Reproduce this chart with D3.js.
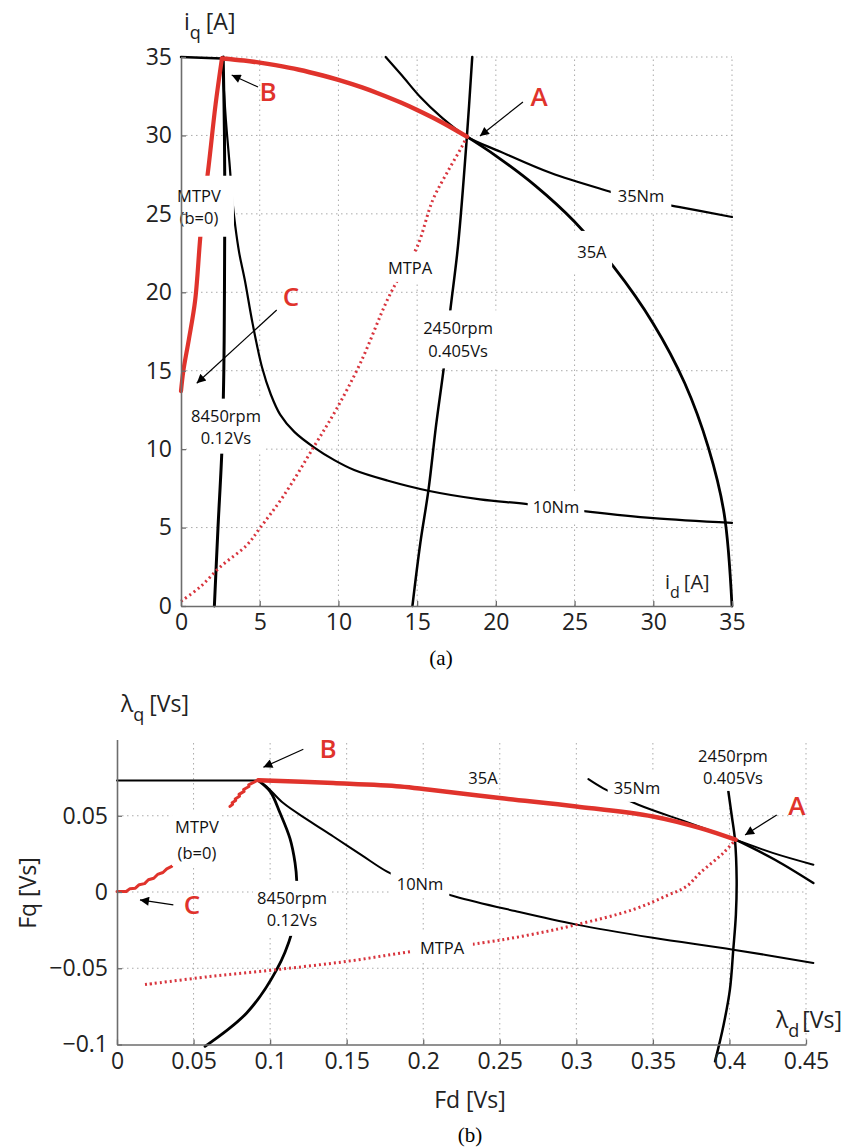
<!DOCTYPE html>
<html>
<head>
<meta charset="utf-8">
<script src="https://cdn.jsdelivr.net/npm/d3@7"></script>
<style>
  body { margin: 0; background: #fff; }
  text { font-family: "Open Sans", sans-serif; }
</style>
</head>
<body>
<script>
// ---------- panel (a): current plane, values in A ----------
var aTicks = [0, 5, 10, 15, 20, 25, 30, 35];

var a35A_left = [[0, 35], [2.6, 34.9]];
var a35A_red = [[2.6, 34.9], [4, 34.77], [5, 34.64], [6, 34.48], [7.5, 34.19], [9, 33.82], [10, 33.54], [11.5, 33.06], [12.5, 32.69], [14, 32.08], [15, 31.62], [16.5, 30.87], [18.16, 29.92]];
var a35A_right = [[18.16, 29.92], [20, 28.7], [22.5, 26.8], [25, 24.5], [27.5, 21.6], [30, 18.0], [32, 14.2], [33.5, 10.1], [34.5, 5.9], [35, 0]];
var a35Nm = [[13.0, 35], [14.05, 33.8], [15.2, 32.45], [16.5, 31.2], [18.16, 29.92], [20.3, 28.96], [23.5, 27.6], [27.3, 26.4], [29, 25.9], [31.6, 25.45], [35, 24.8]];
var a10Nm = [[2.6, 35], [2.85, 31], [3.1, 28], [3.25, 26], [3.45, 24.2], [3.7, 22.5], [4.05, 20.8], [4.55, 18.0], [5.15, 15.2], [5.7, 13.5], [6.3, 12.2], [7.2, 11.1], [8.47, 10.1], [9.74, 9.3], [11, 8.67], [13.1, 8.0], [15.7, 7.35], [19, 6.8], [22, 6.5], [26, 6.0], [30, 5.6], [35, 5.3]];
var a8450 = [[2.12, 0], [2.35, 5], [2.6, 10], [2.72, 15], [2.76, 20], [2.78, 25], [2.76, 30], [2.68, 35]];
var a2450 = [[14.7, 0], [15.2, 4], [15.72, 7.4], [16.2, 11.5], [16.7, 15.25], [17.1, 18.8], [17.6, 23], [18.16, 29.92], [18.5, 35]];
var aMTPV = [[0, 13.7], [0.15, 15], [0.5, 17], [0.9, 19.5], [1.27, 24], [1.75, 28], [2.2, 32], [2.6, 34.9]];
var aMTPA = [[0, 0.3], [1.2, 1.2], [2.5, 2.5], [4.2, 3.9], [5, 4.95], [6.5, 7], [8.47, 10.2], [9.9, 12.6], [11.4, 15.5], [13.1, 19.5], [14, 21.2], [15, 22.9], [16, 25.9], [17, 27.8], [17.85, 29.3], [18.16, 29.92]];

// ---------- panel (b): flux plane, values in Vs ----------
var bTicksX = [0, 0.05, 0.1, 0.15, 0.2, 0.25, 0.3, 0.35, 0.4, 0.45];
var bTicksY = [-0.1, -0.05, 0, 0.05];

var b35A_left = [[0, 0.0731], [0.0923, 0.0731]];
var b35A_red = [[0.0923, 0.0733], [0.1413, 0.0714], [0.185, 0.0692], [0.2044, 0.067], [0.25, 0.0616], [0.30, 0.0561], [0.35, 0.0495], [0.381, 0.0419], [0.404, 0.0343]];
var b35A_right = [[0.404, 0.0343], [0.43, 0.021], [0.4548, 0.0059]];
var b35Nm = [[0.3079, 0.074], [0.3176, 0.068], [0.3405, 0.0572], [0.3742, 0.0452], [0.404, 0.0343], [0.4287, 0.0255], [0.4548, 0.0179]];
var b2450 = [[0.3993, 0.0659], [0.4015, 0.05], [0.4036, 0.0343], [0.4047, 0.008], [0.4042, -0.015], [0.4025, -0.0378], [0.4003, -0.064], [0.396, -0.088], [0.3906, -0.111]];
var b8450 = [[0.0923, 0.0731], [0.1, 0.066], [0.1065, 0.0518], [0.113, 0.035], [0.1163, 0.019], [0.1174, 0.0069], [0.1172, -0.01], [0.1141, -0.0269], [0.1043, -0.0509], [0.0847, -0.0793], [0.0575, -0.1012]];
var b10Nm = [[0.0923, 0.0731], [0.0977, 0.0692], [0.1086, 0.0583], [0.125, 0.047], [0.1413, 0.0364], [0.16, 0.024], [0.1761, 0.0135], [0.19, 0.007], [0.2208, -0.0029], [0.26, -0.0125], [0.3002, -0.0214], [0.35, -0.03], [0.4025, -0.0378], [0.4548, -0.0465]];
var bMTPV_top = [[0.0738, 0.0561], [0.0755, 0.0575], [0.0752, 0.0585], [0.0775, 0.06], [0.0772, 0.061], [0.08, 0.0628], [0.0797, 0.064], [0.083, 0.066], [0.0827, 0.0672], [0.0862, 0.0692], [0.086, 0.0703], [0.0895, 0.072], [0.0923, 0.0736]];
var bMTPV_low = [[0, 0.0003], [0.006, 0.0003], [0.0085, 0.0022], [0.012, 0.0025], [0.0145, 0.0048], [0.018, 0.0055], [0.0205, 0.008], [0.024, 0.009], [0.0265, 0.0115], [0.03, 0.0128], [0.0325, 0.0152], [0.0357, 0.0168]];
var bMTPA = [[0.0183, -0.0607], [0.06, -0.0555], [0.1043, -0.0509], [0.15, -0.0455], [0.1935, -0.0389], [0.2382, -0.0334], [0.27, -0.028], [0.3002, -0.0214], [0.3372, -0.0115], [0.36, -0.002], [0.372, 0.0037], [0.3808, 0.0125], [0.396, 0.0256], [0.404, 0.0343]];

var RED = '#e0332c';

var svg = d3.select('body').append('svg')
    .attr('width', 851)
    .attr('height', 1147);

var defs = svg.append('defs');
defs.append('marker')
    .attr('id', 'arrow')
    .attr('viewBox', '0 0 10 10')
    .attr('refX', 10).attr('refY', 5)
    .attr('markerWidth', 12).attr('markerHeight', 9)
    .attr('markerUnits', 'userSpaceOnUse')
    .attr('orient', 'auto')
  .append('path')
    .attr('d', 'M0,0L10,5L0,10z')
    .attr('fill', '#000');

function grid(g, x, y, xt, yt) {
    var yr = y.range(), xr = x.range();
    g.selectAll('.vg').data(xt.filter(function (d) { return d !== x.domain()[0]; }))
        .enter().append('line')
        .attr('x1', function (d) { return x(d); }).attr('x2', function (d) { return x(d); })
        .attr('y1', yr[0]).attr('y2', yr[1])
        .attr('stroke', '#aaa').attr('stroke-width', 1).attr('stroke-dasharray', '1.5,3.5');
    g.selectAll('.hg').data(yt.filter(function (d) { return d !== y.domain()[0]; }))
        .enter().append('line')
        .attr('y1', function (d) { return y(d); }).attr('y2', function (d) { return y(d); })
        .attr('x1', xr[0]).attr('x2', xr[1])
        .attr('stroke', '#aaa').attr('stroke-width', 1).attr('stroke-dasharray', '1.5,3.5');
}

function axes(g, x, y, xt, yt, fmt) {
    var ax = g.append('g')
        .attr('transform', 'translate(0,' + y.range()[0] + ')')
        .call(d3.axisBottom(x).tickValues(xt).tickFormat(fmt).tickSizeInner(-5).tickSizeOuter(0).tickPadding(8));
    var ay = g.append('g')
        .attr('transform', 'translate(' + x.range()[0] + ',0)')
        .call(d3.axisLeft(y).tickValues(yt).tickFormat(fmt).tickSizeInner(-5).tickSizeOuter(0).tickPadding(9));
    [ax, ay].forEach(function (a) {
        a.select('.domain').attr('stroke', '#6d6d6d').attr('stroke-width', 1.6);
        a.selectAll('.tick line').attr('stroke', '#6d6d6d').attr('stroke-width', 1.3);
        a.selectAll('.tick text').attr('font-size', 23).attr('fill', '#222')
            .style('font-family', '"Open Sans", sans-serif');
    });
}

function curve(g, x, y, data, color, w, dash, smooth) {
    var line = d3.line()
        .x(function (d) { return x(d[0]); })
        .y(function (d) { return y(d[1]); })
        .curve(smooth === false ? d3.curveLinear : d3.curveCatmullRom.alpha(0.5));
    g.append('path')
        .datum(data)
        .attr('d', line)
        .attr('fill', 'none')
        .attr('stroke', color)
        .attr('stroke-width', w)
        .attr('stroke-linecap', dash ? 'butt' : 'round')
        .attr('stroke-linejoin', 'round')
        .attr('stroke-dasharray', dash || null);
}

function label(g, lines, cx, cy, padX, padY, lh, box) {
    var tg = g.append('g');
    tg.selectAll('text').data(lines).enter().append('text')
        .attr('x', cx)
        .attr('y', function (d, i) { return cy + (i - (lines.length - 1) / 2) * lh; })
        .attr('dy', '0.36em')
        .attr('text-anchor', 'middle')
        .attr('font-size', 16.5)
        .attr('fill', '#111')
        .text(function (d) { return d; });
    if (box !== false) {
        var bb = tg.node().getBBox();
        tg.insert('rect', 'text')
            .attr('x', bb.x - padX).attr('y', bb.y - padY)
            .attr('width', bb.width + 2 * padX).attr('height', bb.height + 2 * padY)
            .attr('fill', '#fff');
    }
}

function letter(g, s, cx, cy) {
    g.append('text')
        .attr('x', cx).attr('y', cy).attr('dy', '0.36em')
        .attr('text-anchor', 'middle')
        .attr('font-size', 26).attr('font-weight', 600)
        .attr('fill', RED)
        .text(s);
}

function arrow(g, x1, y1, x2, y2) {
    g.append('line')
        .attr('x1', x1).attr('y1', y1).attr('x2', x2).attr('y2', y2)
        .attr('stroke', '#000').attr('stroke-width', 1.2)
        .attr('marker-end', 'url(#arrow)');
}

// ================= panel (a) =================
var xa = d3.scaleLinear().domain([0, 35]).range([181, 732]);
var ya = d3.scaleLinear().domain([0, 35]).range([606, 57]);
var ga = svg.append('g');

grid(ga, xa, ya, aTicks, aTicks);

curve(ga, xa, ya, a2450, '#000', 2.5);
curve(ga, xa, ya, a8450, '#000', 3);
curve(ga, xa, ya, a10Nm, '#000', 2.2);
curve(ga, xa, ya, a35Nm, '#000', 2.2);
curve(ga, xa, ya, a35A_left, '#000', 2.5);
curve(ga, xa, ya, a35A_right, '#000', 2.8);
curve(ga, xa, ya, aMTPA, '#d8343d', 3, '2,3.2');
curve(ga, xa, ya, a35A_red, RED, 4.5);
curve(ga, xa, ya, aMTPV, RED, 4.2);

var axA = ga.append('g');
axes(axA, xa, ya, aTicks, aTicks, d3.format('d'));

label(ga, ['MTPV', '(b=0)'], xa(1.14), ya(25.45), 13, 8, 22);
label(ga, ['8450rpm', '0.12Vs'], xa(2.86), ya(11.43), 4, 5, 22);
label(ga, ['2450rpm', '0.405Vs'], xa(17.6), ya(16.96), 4, 6, 23);
label(ga, ['MTPA'], xa(14.55), ya(21.55), 3, 3, 0);
label(ga, ['35Nm'], xa(29.22), ya(26.14), 7, 4, 0);
label(ga, ['35A'], xa(26.1), ya(22.57), 5, 9, 0);
label(ga, ['10Nm'], xa(23.82), ya(6.31), 5, 4, 0);
// tick labels stay on top of the label boxes
axA.raise();

letter(ga, 'A', xa(22.74), ya(32.45));
letter(ga, 'B', xa(5.53), ya(32.77));
letter(ga, 'C', xa(6.99), ya(19.7));
arrow(ga, xa(21.72), ya(32.13), xa(18.99), ya(29.96));
arrow(ga, xa(4.89), ya(33.09), xa(3.22), ya(33.85));
arrow(ga, xa(6.08), ya(18.87), xa(1.0), ya(14.2));

// axis names (a)
var tq = ga.append('text').attr('x', 184).attr('y', 30).attr('font-size', 23).attr('fill', '#222');
tq.append('tspan').text('i');
tq.append('tspan').attr('dy', 9).attr('font-size', 18).text('q');
tq.append('tspan').attr('dy', -9).attr('dx', 5).text('[A]');
var td = ga.append('text').attr('x', 665).attr('y', 589).attr('font-size', 20).attr('fill', '#222');
td.append('tspan').text('i');
td.append('tspan').attr('dy', 9).attr('font-size', 16).text('d');
td.append('tspan').attr('dy', -9).attr('dx', 4).text('[A]');
ga.append('text').attr('x', 441).attr('y', 665).attr('text-anchor', 'middle')
    .attr('font-size', 21).style('font-family', '"Liberation Serif", serif').text('(a)');

// ================= panel (b) =================
var xb = d3.scaleLinear().domain([0, 0.45]).range([117, 806]);
var yb = d3.scaleLinear().domain([-0.1, 0.1]).range([1044.5, 739.5]);
var gb = svg.append('g');

grid(gb, xb, yb, bTicksX, bTicksY);

curve(gb, xb, yb, b2450, '#000', 2.5);
curve(gb, xb, yb, b8450, '#000', 2.8);
curve(gb, xb, yb, b10Nm, '#000', 2);
curve(gb, xb, yb, b35Nm, '#000', 2);
curve(gb, xb, yb, b35A_left, '#000', 2);
curve(gb, xb, yb, b35A_right, '#000', 2.5);
curve(gb, xb, yb, bMTPA, '#d8343d', 3, '2,3');
curve(gb, xb, yb, b35A_red, RED, 4.5);
curve(gb, xb, yb, bMTPV_top, RED, 3, null, false);
curve(gb, xb, yb, bMTPV_low, RED, 3, null, false);

var axB = gb.append('g');
axes(axB, xb, yb, bTicksX, bTicksY, d3.format('~g'));

label(gb, ['MTPV', '(b=0)'], xb(0.0522), yb(0.0341), 3, 2, 26);
label(gb, ['8450rpm', '0.12Vs'], xb(0.1143), yb(-0.0111), 4, 5, 22);
label(gb, ['2450rpm', '0.405Vs'], xb(0.4023), yb(0.082), 3, 2, 22);
label(gb, ['35A'], xb(0.239), yb(0.0748), 0, 0, 0, false);
label(gb, ['35Nm'], xb(0.3396), yb(0.0682), 6, 3, 0);
label(gb, ['10Nm'], xb(0.1979), yb(0.0052), 6, 3, 0);
label(gb, ['MTPA'], xb(0.2123), yb(-0.0367), 8, 3, 0);
axB.raise();

letter(gb, 'A', xb(0.4441), yb(0.0564));
letter(gb, 'B', xb(0.1378), yb(0.0938));
letter(gb, 'C', xb(0.049), yb(-0.0085));
arrow(gb, xb(0.4309), yb(0.0505), xb(0.4102), yb(0.0374));
arrow(gb, xb(0.1217), yb(0.0936), xb(0.0956), yb(0.0818));
arrow(gb, xb(0.0368), yb(-0.0085), xb(0.015), yb(-0.0052));

// axis names (b)
var lq = gb.append('text').attr('x', 121).attr('y', 712).attr('font-size', 23).attr('fill', '#222');
lq.append('tspan').text('λ');
lq.append('tspan').attr('dy', 9).attr('font-size', 18).text('q');
lq.append('tspan').attr('dy', -9).attr('dx', 5).text('[Vs]');
var ld = gb.append('text').attr('x', 776).attr('y', 1028).attr('font-size', 23).attr('fill', '#222');
ld.append('tspan').text('λ');
ld.append('tspan').attr('dy', 9).attr('font-size', 18).text('d');
ld.append('tspan').attr('dy', -9).attr('dx', 3).text('[Vs]');
gb.append('text').attr('x', 470).attr('y', 1108).attr('text-anchor', 'middle')
    .attr('font-size', 23).attr('fill', '#222').text('Fd [Vs]');
gb.append('text').attr('transform', 'translate(36,893) rotate(-90)')
    .attr('text-anchor', 'middle').attr('font-size', 23).attr('fill', '#222').text('Fq [Vs]');
gb.append('text').attr('x', 470).attr('y', 1142).attr('text-anchor', 'middle')
    .attr('font-size', 21).style('font-family', '"Liberation Serif", serif').text('(b)');
</script>
</body>
</html>
